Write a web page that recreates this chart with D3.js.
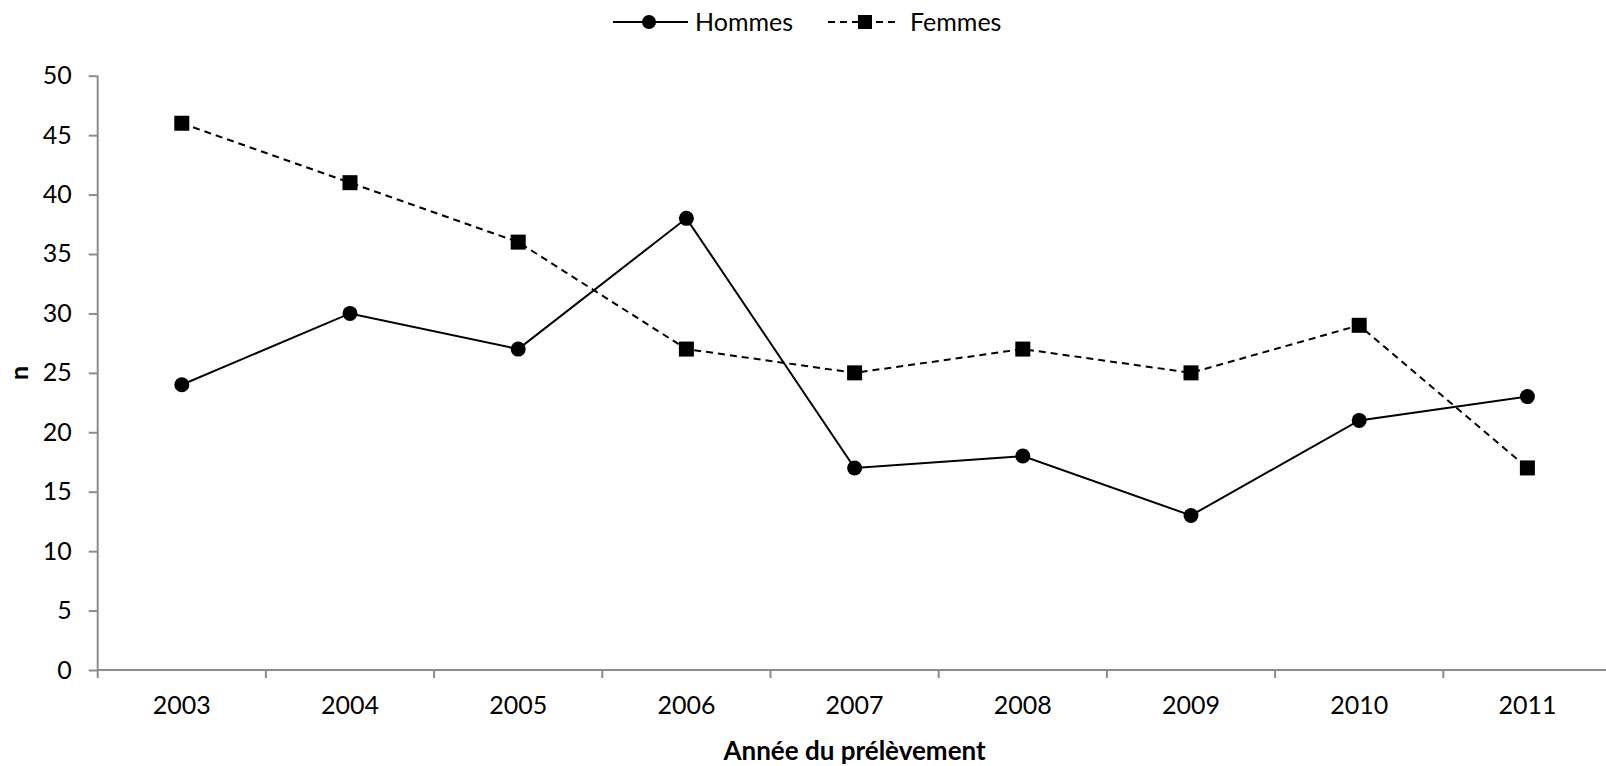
<!DOCTYPE html>
<html><head><meta charset="utf-8">
<script src="https://cdn.jsdelivr.net/npm/d3@7"></script>
<style>
html,body{margin:0;padding:0;background:#fff;}
svg{display:block;font-family:Lato,"Open Sans",sans-serif;}
</style></head>
<body>
<script>
const years = ["2003","2004","2005","2006","2007","2008","2009","2010","2011"];
const hommes = [24, 30, 27, 38, 17, 18, 13, 21, 23];
const femmes = [46, 41, 36, 27, 25, 27, 25, 29, 17];
const yTicks = [0,5,10,15,20,25,30,35,40,45,50];
const seriesNames = ["Hommes","Femmes"];
const xTitle = "Année du prélèvement";
const yTitle = "n";

const W = 1606, H = 766;
const pLeft = 97.7, pRight = 1611.5, pTop = 75.7, pBottom = 670;

const svg = d3.select("body").append("svg").attr("width", W).attr("height", H);

const x = d3.scaleBand().domain(years).range([pLeft, pRight]);
const y = d3.scaleLinear().domain([0, 50]).range([pBottom, pTop]);

const axisColor = "#8c8c8c";

// Y axis
const yAxis = svg.append("g").attr("transform", `translate(${pLeft},0)`)
  .call(d3.axisLeft(y).tickValues(yTicks).tickSize(9).tickPadding(17).tickFormat(d3.format("d")));
yAxis.select(".domain").attr("stroke", axisColor).attr("stroke-width", 2).attr("d", `M0,${pBottom}V${pTop}`);
yAxis.selectAll(".tick line").attr("stroke", axisColor).attr("stroke-width", 2);
yAxis.selectAll(".tick text").attr("font-size", 25).attr("fill", "#000").attr("font-family", "Lato");

// X axis
const xAxis = svg.append("g").attr("transform", `translate(0,${pBottom})`)
  .call(d3.axisBottom(x).tickSize(0).tickPadding(26));
xAxis.select(".domain").attr("stroke", axisColor).attr("stroke-width", 2).attr("d", `M${pLeft},0H${pRight}`);
xAxis.selectAll(".tick text").attr("font-size", 25).attr("fill", "#000").attr("font-family", "Lato");
const bounds = years.map(d => x(d)).concat([pRight]);
xAxis.selectAll(".bt").data(bounds).enter().append("line")
  .attr("x1", d => d).attr("x2", d => d).attr("y1", 0).attr("y2", 8)
  .attr("stroke", axisColor).attr("stroke-width", 2);

const cx = d => x(d) + x.bandwidth() / 2;
const line = d3.line().x((d, i) => cx(years[i])).y(d => y(d));

// Femmes
svg.append("path").datum(femmes).attr("d", line).attr("fill", "none")
  .attr("stroke", "#000").attr("stroke-width", 2).attr("stroke-dasharray", "7,5");
svg.selectAll(".fm").data(femmes).enter().append("rect")
  .attr("x", (d, i) => cx(years[i]) - 7.5).attr("y", d => y(d) - 7.5)
  .attr("width", 15).attr("height", 15).attr("fill", "#000");

// Hommes
svg.append("path").datum(hommes).attr("d", line).attr("fill", "none")
  .attr("stroke", "#000").attr("stroke-width", 2);
svg.selectAll(".hm").data(hommes).enter().append("circle")
  .attr("cx", (d, i) => cx(years[i])).attr("cy", d => y(d)).attr("r", 7.5).attr("fill", "#000");

// Legend
const lg = svg.append("g");
lg.append("line").attr("x1", 613).attr("x2", 688).attr("y1", 22).attr("y2", 22).attr("stroke", "#000").attr("stroke-width", 2);
lg.append("circle").attr("cx", 649).attr("cy", 22).attr("r", 7).attr("fill", "#000");
lg.append("text").attr("x", 695).attr("y", 22).attr("dy", "0.35em").attr("font-size", 25).text(seriesNames[0]);
lg.append("line").attr("x1", 828).attr("x2", 898).attr("y1", 22).attr("y2", 22).attr("stroke", "#000").attr("stroke-width", 2).attr("stroke-dasharray", "7,5");
lg.append("rect").attr("x", 858).attr("y", 15).attr("width", 14).attr("height", 14).attr("fill", "#000");
lg.append("text").attr("x", 910).attr("y", 22).attr("dy", "0.35em").attr("font-size", 25).text(seriesNames[1]);

// Titles
svg.append("text").attr("x", (pLeft + pRight) / 2).attr("y", 760).attr("text-anchor", "middle")
  .attr("font-size", 26).attr("font-weight", "bold").text(xTitle);
svg.append("text").attr("transform", `translate(28,${(pTop + pBottom) / 2}) rotate(-90)`)
  .attr("text-anchor", "middle").attr("font-size", 25).attr("font-weight", "bold").text(yTitle);
</script>
</body></html>
